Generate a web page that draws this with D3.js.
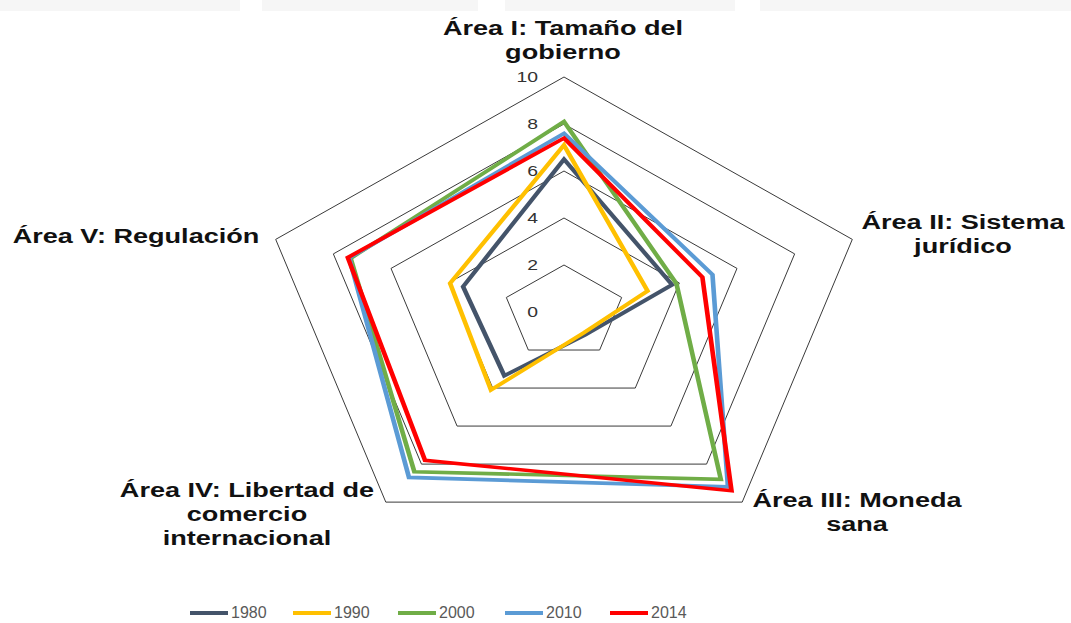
<!DOCTYPE html>
<html>
<head>
<meta charset="utf-8">
<script src="https://cdn.jsdelivr.net/npm/d3@7"></script>
<style>
  body { margin: 0; background: #fff; }
  svg { display: block; }
</style>
</head>
<body>
<svg id="chart" width="1071" height="623"></svg>
<script>
// data
const areas = [
  ["Área I: Tamaño del", "gobierno"],
  ["Área II: Sistema", "jurídico"],
  ["Área III: Moneda", "sana"],
  ["Área IV: Libertad de", "comercio", "internacional"],
  ["Área V: Regulación"]
];
const years = ["1980", "1990", "2000", "2010", "2014"];
const v1980 = [6.5, 3.75, 1.2, 3.35, 3.5];
const v1990 = [7.1, 2.9, 1.1, 4.1, 3.95];
const v2000 = [8.1, 3.9, 8.8, 8.4, 7.4];
const v2010 = [7.6, 5.15, 9.2, 8.7, 7.45];
const v2014 = [7.4, 4.8, 9.4, 7.8, 7.5];
const tickVals = [0, 2, 4, 6, 8, 10];
const colors = ["#44546A", "#FFC000", "#70AD47", "#5B9BD5", "#FF0000"];

const series = [v1980, v1990, v2000, v2010, v2014];

const SX = 1.29;          // picture is stretched sideways
const cx = 564, cy = 312;
const svg = d3.select("#chart");

// faint band left over at the top
const band = [[0, 240], [262, 478], [505, 735], [760, 1071]];
svg.selectAll(".band").data(band).join("rect")
  .attr("x", d => d[0]).attr("y", 0)
  .attr("width", d => d[1] - d[0]).attr("height", 11)
  .attr("fill", "#f6f6f6");

const r = d3.scaleLinear().domain([0, 10]).range([0, 235]);
const angle = d3.scaleLinear().domain([0, areas.length]).range([0, 2 * Math.PI]);

const g = svg.append("g").attr("transform", `translate(${cx},${cy}) scale(${SX},1)`);

const radial = d3.lineRadial()
  .angle((d, i) => angle(i))
  .radius(d => r(d))
  .curve(d3.curveLinearClosed);

// grid pentagons
g.selectAll(".grid").data(tickVals.filter(t => t > 0)).join("path")
  .attr("class", "grid")
  .attr("d", t => radial(areas.map(() => t)))
  .attr("fill", "none")
  .attr("stroke", "#3a3a3a")
  .attr("stroke-width", 1)
  .attr("vector-effect", "non-scaling-stroke");

// series
g.selectAll(".serie").data(series).join("path")
  .attr("class", "serie")
  .attr("d", d => radial(d))
  .attr("fill", "none")
  .attr("stroke", (d, i) => colors[i])
  .attr("stroke-width", 3.6)
  .attr("stroke-linejoin", "miter");

// tick labels
g.selectAll(".tick").data(tickVals).join("text")
  .attr("class", "tick")
  .attr("x", -26 / SX)
  .attr("y", t => -r(t))
  .attr("dy", "0.35em")
  .attr("text-anchor", "end")
  .attr("font-family", "Liberation Sans, Arial, sans-serif")
  .attr("font-size", 15)
  .attr("fill", "#333")
  .text(t => t);

// category labels (pixel centre x, first baseline)
const labelPos = [[563, 35], [963, 229], [857, 507], [247, 497], [136, 243]];
const lab = svg.append("g").attr("transform", `scale(${SX},1)`);
areas.forEach((lines, i) => {
  const t = lab.append("text")
    .attr("text-anchor", "middle")
    .attr("font-family", "Liberation Sans, Arial, sans-serif")
    .attr("font-weight", "bold")
    .attr("font-size", 21)
    .attr("fill", "#111");
  lines.forEach((s, k) => {
    t.append("tspan")
      .attr("x", labelPos[i][0] / SX)
      .attr("y", labelPos[i][1] + k * 24)
      .text(s);
  });
});

// legend
const legX = [190, 293, 398, 505, 610];
const leg = svg.append("g");
years.forEach((y, i) => {
  leg.append("line")
    .attr("x1", legX[i]).attr("x2", legX[i] + 38)
    .attr("y1", 613).attr("y2", 613)
    .attr("stroke", colors[i]).attr("stroke-width", 4);
  leg.append("text")
    .attr("x", legX[i] + 41).attr("y", 618)
    .attr("font-family", "Liberation Sans, Arial, sans-serif")
    .attr("font-size", 16)
    .attr("fill", "#595959")
    .text(y);
});
</script>
</body>
</html>
